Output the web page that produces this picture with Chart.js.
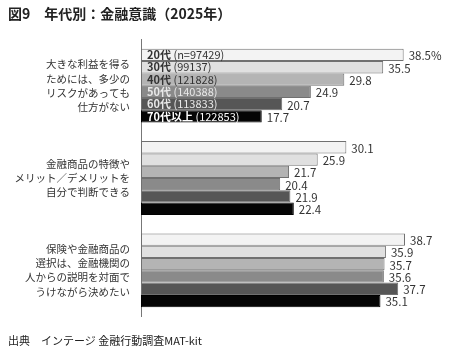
<!DOCTYPE html>
<html><head><meta charset="utf-8">
<script src="https://cdn.jsdelivr.net/npm/chart.js@4/dist/chart.umd.min.js"></script>
<style>
html,body{margin:0;padding:0;background:#fff;}
#wrap{position:relative;width:450px;height:356px;font-family:"Noto Sans CJK JP","Noto Sans",sans-serif;}
#title{position:absolute;left:8px;top:3px;font-size:14px;font-weight:bold;color:#222;white-space:nowrap;}
#foot{position:absolute;left:8px;top:332px;font-size:11px;color:#222;white-space:nowrap;}
canvas{position:absolute;left:0;top:0;}
</style></head>
<body><div id="wrap">
<canvas id="c" width="450" height="356"></canvas>
<div id="title">図9　年代別：金融意識（2025年）</div>
<div id="foot">出典　インテージ 金融行動調査MAT-kit</div>
</div>
<script>
const categories = [
  ["大きな利益を得る","ためには、多少の","リスクがあっても","仕方がない"],
  ["金融商品の特徴や","メリット／デメリットを","自分で判断できる"],
  ["保険や金融商品の","選択は、金融機関の","人からの説明を対面で","うけながら決めたい"]
];
const ageGroups = ["20代","30代","40代","50代","60代","70代以上"];
const sampleSizes = ["(n=97429)","(99137)","(121828)","(140388)","(113833)","(122853)"];
const v20s = [38.5, 30.1, 38.7];
const v30s = [35.5, 25.9, 35.9];
const v40s = [29.8, 21.7, 35.7];
const v50s = [24.9, 20.4, 35.6];
const v60s = [20.7, 21.9, 37.7];
const v70s = [17.7, 22.4, 35.1];
const seriesValues = [v20s, v30s, v40s, v50s, v60s, v70s];
const fills = ["#f3f3f3","#e0e0e0","#b4b4b4","#8a8a8a","#565656","#050505"];
const inTextColors = ["#333","#333","#333","#e8e8e8","#e8e8e8","#fff"];

const FONT = '"Noto Sans CJK JP","Noto Sans",sans-serif';

const labelPlugin = {
  id: 'labels',
  afterDatasetsDraw(chart) {
    const ctx = chart.ctx;
    ctx.save();
    ctx.textBaseline = 'middle';
    chart.data.datasets.forEach((ds, di) => {
      const meta = chart.getDatasetMeta(di);
      meta.data.forEach((bar, i) => {
        const v = ds.data[i];
        ctx.font = '11.5px ' + FONT;
        ctx.fillStyle = '#333';
        ctx.textAlign = 'left';
        const txt = (di === 0 && i === 0) ? v.toFixed(1) + '%' : v.toFixed(1);
        ctx.fillText(txt, bar.x + 5, bar.y + 1);
        if (i === 0) {
          const x0 = chart.chartArea.left + 6;
          ctx.fillStyle = inTextColors[di];
          ctx.font = 'bold 11px ' + FONT;
          ctx.fillText(ageGroups[di], x0, bar.y);
          const w = ctx.measureText(ageGroups[di]).width;
          ctx.font = '11px ' + FONT;
          ctx.fillText(' ' + sampleSizes[di], x0 + w, bar.y);
        }
      });
    });
    ctx.restore();
  }
};

new Chart(document.getElementById('c'), {
  type: 'bar',
  data: {
    labels: categories,
    datasets: seriesValues.map((vals, i) => ({
      label: ageGroups[i],
      data: vals,
      backgroundColor: fills[i],
      borderColor: i === 5 ? '#000' : '#707070',
      borderWidth: 1,
      borderSkipped: false,
      categoryPercentage: 0.8,
      barPercentage: 1.0
    }))
  },
  options: {
    indexAxis: 'y',
    responsive: false,
    animation: false,
    layout: { padding: { top: 30, bottom: 26, left: 0, right: 2 } },
    plugins: { legend: { display: false }, tooltip: { enabled: false } },
    scales: {
      x: { display: false, min: 0, max: 45 },
      y: {
        afterFit(scale) { scale.width = 141; },
        grid: { display: false, drawTicks: false },
        border: { display: true, color: '#777', width: 1 },
        ticks: {
          padding: 11,
          color: '#333',
          font: { family: FONT, size: 10.5, lineHeight: 1.36 }
        }
      }
    }
  },
  plugins: [labelPlugin]
});
</script>
</body></html>
